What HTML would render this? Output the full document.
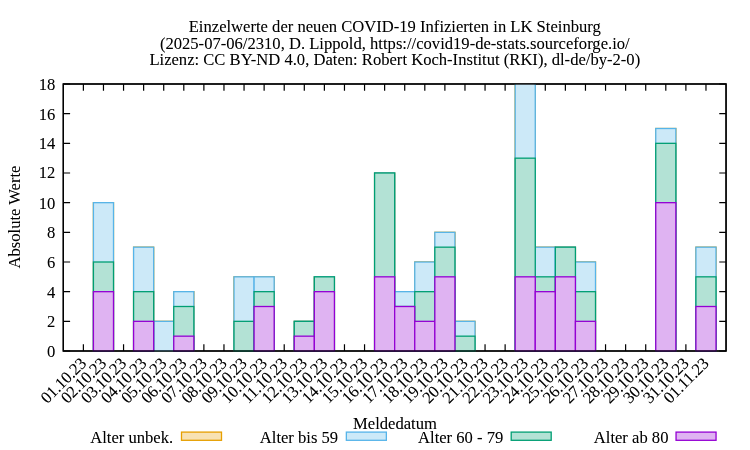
<!DOCTYPE html>
<html lang="de"><head><meta charset="utf-8"><title>Einzelwerte der neuen COVID-19 Infizierten in LK Steinburg</title>
<style>html,body{margin:0;padding:0;background:#fff;overflow:hidden}svg{display:block}text{font-family:"Liberation Serif","DejaVu Serif",serif;font-size:16.6px;fill:#000}</style></head><body>
<svg width="750" height="450" viewBox="0 0 750 450">
<rect width="750" height="450" fill="#fff"/>
<defs><filter id="dd" x="0" y="0" width="750" height="450" filterUnits="userSpaceOnUse" color-interpolation-filters="sRGB"><feComponentTransfer><feFuncA type="table" tableValues="0 0.3 0.57 0.8 1"/></feComponentTransfer></filter>
<clipPath id="c"><rect x="63.3" y="84.0" width="662.75" height="270.0"/></clipPath></defs>
<path d="M83.38 351.0v-6.8M83.38 84.0v6.8M103.47 351.0v-6.8M103.47 84.0v6.8M123.55 351.0v-6.8M123.55 84.0v6.8M143.63 351.0v-6.8M143.63 84.0v6.8M163.72 351.0v-6.8M163.72 84.0v6.8M183.8 351.0v-6.8M183.8 84.0v6.8M203.88 351.0v-6.8M203.88 84.0v6.8M223.97 351.0v-6.8M223.97 84.0v6.8M244.05 351.0v-6.8M244.05 84.0v6.8M264.13 351.0v-6.8M264.13 84.0v6.8M284.22 351.0v-6.8M284.22 84.0v6.8M304.3 351.0v-6.8M304.3 84.0v6.8M324.38 351.0v-6.8M324.38 84.0v6.8M344.47 351.0v-6.8M344.47 84.0v6.8M364.55 351.0v-6.8M364.55 84.0v6.8M384.63 351.0v-6.8M384.63 84.0v6.8M404.72 351.0v-6.8M404.72 84.0v6.8M424.8 351.0v-6.8M424.8 84.0v6.8M444.88 351.0v-6.8M444.88 84.0v6.8M464.97 351.0v-6.8M464.97 84.0v6.8M485.05 351.0v-6.8M485.05 84.0v6.8M505.13 351.0v-6.8M505.13 84.0v6.8M525.22 351.0v-6.8M525.22 84.0v6.8M545.3 351.0v-6.8M545.3 84.0v6.8M565.38 351.0v-6.8M565.38 84.0v6.8M585.47 351.0v-6.8M585.47 84.0v6.8M605.55 351.0v-6.8M605.55 84.0v6.8M625.63 351.0v-6.8M625.63 84.0v6.8M645.72 351.0v-6.8M645.72 84.0v6.8M665.8 351.0v-6.8M665.8 84.0v6.8M685.88 351.0v-6.8M685.88 84.0v6.8M705.97 351.0v-6.8M705.97 84.0v6.8M63.3 351.0h6.8M726.05 351.0h-6.8M63.3 321.33h6.8M726.05 321.33h-6.8M63.3 291.67h6.8M726.05 291.67h-6.8M63.3 262.0h6.8M726.05 262.0h-6.8M63.3 232.33h6.8M726.05 232.33h-6.8M63.3 202.67h6.8M726.05 202.67h-6.8M63.3 173.0h6.8M726.05 173.0h-6.8M63.3 143.33h6.8M726.05 143.33h-6.8M63.3 113.67h6.8M726.05 113.67h-6.8M63.3 84.0h6.8M726.05 84.0h-6.8" stroke="#000" stroke-width="1.2" fill="none"/>
<rect x="63.3" y="84.0" width="662.75" height="267.0" fill="none" stroke="#000" stroke-width="1.3"/>
<g clip-path="url(#c)">
<g stroke="#E69F00" fill="#F8E2B3" stroke-width="1.3">
<rect x="93.42" y="202.67" width="20.08" height="148.33"/>
<rect x="133.59" y="247.17" width="20.08" height="103.83"/>
<rect x="153.67" y="321.33" width="20.08" height="29.67"/>
<rect x="173.76" y="291.67" width="20.08" height="59.33"/>
<rect x="234.01" y="276.83" width="20.08" height="74.17"/>
<rect x="254.09" y="276.83" width="20.08" height="74.17"/>
<rect x="294.26" y="321.33" width="20.08" height="29.67"/>
<rect x="314.34" y="276.83" width="20.08" height="74.17"/>
<rect x="374.59" y="173.0" width="20.08" height="178.0"/>
<rect x="394.67" y="291.67" width="20.08" height="59.33"/>
<rect x="414.76" y="262.0" width="20.08" height="89.0"/>
<rect x="434.84" y="232.33" width="20.08" height="118.67"/>
<rect x="454.92" y="321.33" width="20.08" height="29.67"/>
<rect x="515.17" y="69.17" width="20.08" height="281.83"/>
<rect x="535.26" y="247.17" width="20.08" height="103.83"/>
<rect x="555.34" y="247.17" width="20.08" height="103.83"/>
<rect x="575.42" y="262.0" width="20.08" height="89.0"/>
<rect x="655.76" y="128.5" width="20.08" height="222.5"/>
<rect x="695.92" y="247.17" width="20.08" height="103.83"/>
</g>
<g stroke="#56B4E9" fill="#CCE9F8" stroke-width="1.3">
<rect x="93.42" y="202.67" width="20.08" height="148.33"/>
<rect x="133.59" y="247.17" width="20.08" height="103.83"/>
<rect x="153.67" y="321.33" width="20.08" height="29.67"/>
<rect x="173.76" y="291.67" width="20.08" height="59.33"/>
<rect x="234.01" y="276.83" width="20.08" height="74.17"/>
<rect x="254.09" y="276.83" width="20.08" height="74.17"/>
<rect x="294.26" y="321.33" width="20.08" height="29.67"/>
<rect x="314.34" y="276.83" width="20.08" height="74.17"/>
<rect x="374.59" y="173.0" width="20.08" height="178.0"/>
<rect x="394.67" y="291.67" width="20.08" height="59.33"/>
<rect x="414.76" y="262.0" width="20.08" height="89.0"/>
<rect x="434.84" y="232.33" width="20.08" height="118.67"/>
<rect x="454.92" y="321.33" width="20.08" height="29.67"/>
<rect x="515.17" y="69.17" width="20.08" height="281.83"/>
<rect x="535.26" y="247.17" width="20.08" height="103.83"/>
<rect x="555.34" y="247.17" width="20.08" height="103.83"/>
<rect x="575.42" y="262.0" width="20.08" height="89.0"/>
<rect x="655.76" y="128.5" width="20.08" height="222.5"/>
<rect x="695.92" y="247.17" width="20.08" height="103.83"/>
</g>
<g stroke="#009E73" fill="#B3E2D5" stroke-width="1.3">
<rect x="93.42" y="262.0" width="20.08" height="89.0"/>
<rect x="133.59" y="291.67" width="20.08" height="59.33"/>
<rect x="153.67" y="351.0" width="20.08" height="0.0"/>
<rect x="173.76" y="306.5" width="20.08" height="44.5"/>
<rect x="234.01" y="321.33" width="20.08" height="29.67"/>
<rect x="254.09" y="291.67" width="20.08" height="59.33"/>
<rect x="294.26" y="321.33" width="20.08" height="29.67"/>
<rect x="314.34" y="276.83" width="20.08" height="74.17"/>
<rect x="374.59" y="173.0" width="20.08" height="178.0"/>
<rect x="394.67" y="306.5" width="20.08" height="44.5"/>
<rect x="414.76" y="291.67" width="20.08" height="59.33"/>
<rect x="434.84" y="247.17" width="20.08" height="103.83"/>
<rect x="454.92" y="336.17" width="20.08" height="14.83"/>
<rect x="515.17" y="158.17" width="20.08" height="192.83"/>
<rect x="535.26" y="276.83" width="20.08" height="74.17"/>
<rect x="555.34" y="247.17" width="20.08" height="103.83"/>
<rect x="575.42" y="291.67" width="20.08" height="59.33"/>
<rect x="655.76" y="143.33" width="20.08" height="207.67"/>
<rect x="695.92" y="276.83" width="20.08" height="74.17"/>
</g>
<g stroke="#9400D3" fill="#DFB3F2" stroke-width="1.3">
<rect x="93.42" y="291.67" width="20.08" height="59.33"/>
<rect x="133.59" y="321.33" width="20.08" height="29.67"/>
<rect x="153.67" y="351.0" width="20.08" height="0.0"/>
<rect x="173.76" y="336.17" width="20.08" height="14.83"/>
<rect x="234.01" y="351.0" width="20.08" height="0.0"/>
<rect x="254.09" y="306.5" width="20.08" height="44.5"/>
<rect x="294.26" y="336.17" width="20.08" height="14.83"/>
<rect x="314.34" y="291.67" width="20.08" height="59.33"/>
<rect x="374.59" y="276.83" width="20.08" height="74.17"/>
<rect x="394.67" y="306.5" width="20.08" height="44.5"/>
<rect x="414.76" y="321.33" width="20.08" height="29.67"/>
<rect x="434.84" y="276.83" width="20.08" height="74.17"/>
<rect x="454.92" y="351.0" width="20.08" height="0.0"/>
<rect x="515.17" y="276.83" width="20.08" height="74.17"/>
<rect x="535.26" y="291.67" width="20.08" height="59.33"/>
<rect x="555.34" y="276.83" width="20.08" height="74.17"/>
<rect x="575.42" y="321.33" width="20.08" height="29.67"/>
<rect x="655.76" y="202.67" width="20.08" height="148.33"/>
<rect x="695.92" y="306.5" width="20.08" height="44.5"/>
</g>
</g>
<rect x="63.3" y="84.0" width="662.75" height="267.0" fill="none" stroke="#000" stroke-width="1.3"/>
<rect x="181.5" y="432.1" width="40" height="8.2" fill="#F8E2B3" stroke="#E69F00" stroke-width="1.3"/>
<rect x="346.35" y="432.1" width="40" height="8.2" fill="#CCE9F8" stroke="#56B4E9" stroke-width="1.3"/>
<rect x="511.2" y="432.1" width="40" height="8.2" fill="#B3E2D5" stroke="#009E73" stroke-width="1.3"/>
<rect x="676.05" y="432.1" width="40" height="8.2" fill="#DFB3F2" stroke="#9400D3" stroke-width="1.3"/>
<g class="labels" filter="url(#dd)">
<text x="394.8" y="31.6" text-anchor="middle">Einzelwerte der neuen COVID-19 Infizierten in LK Steinburg</text>
<text x="394.8" y="48.7" text-anchor="middle">(2025-07-06/2310, D. Lippold, https://covid19-de-stats.sourceforge.io/</text>
<text x="394.8" y="64.6" text-anchor="middle">Lizenz: CC BY-ND 4.0, Daten: Robert Koch-Institut (RKI), dl-de/by-2-0)</text>
<text x="55.3" y="356.5" text-anchor="end">0</text>
<text x="55.3" y="326.93" text-anchor="end">2</text>
<text x="55.3" y="297.77" text-anchor="end">4</text>
<text x="55.3" y="267.5" text-anchor="end">6</text>
<text x="55.3" y="238.43" text-anchor="end">8</text>
<text x="55.3" y="209.07" text-anchor="end">10</text>
<text x="55.3" y="178.3" text-anchor="end">12</text>
<text x="55.3" y="149.43" text-anchor="end">14</text>
<text x="55.3" y="119.87" text-anchor="end">16</text>
<text x="55.3" y="89.5" text-anchor="end">18</text>
<text transform="translate(83.38 360.4) rotate(-45)" text-anchor="end" y="5.5" textLength="56.5" lengthAdjust="spacing">01.10.23</text>
<text transform="translate(103.47 360.4) rotate(-45)" text-anchor="end" y="5.5" textLength="56.5" lengthAdjust="spacing">02.10.23</text>
<text transform="translate(123.55 360.4) rotate(-45)" text-anchor="end" y="5.5" textLength="56.5" lengthAdjust="spacing">03.10.23</text>
<text transform="translate(143.63 360.4) rotate(-45)" text-anchor="end" y="5.5" textLength="56.5" lengthAdjust="spacing">04.10.23</text>
<text transform="translate(163.72 360.4) rotate(-45)" text-anchor="end" y="5.5" textLength="56.5" lengthAdjust="spacing">05.10.23</text>
<text transform="translate(183.8 360.4) rotate(-45)" text-anchor="end" y="5.5" textLength="56.5" lengthAdjust="spacing">06.10.23</text>
<text transform="translate(203.88 360.4) rotate(-45)" text-anchor="end" y="5.5" textLength="56.5" lengthAdjust="spacing">07.10.23</text>
<text transform="translate(223.97 360.4) rotate(-45)" text-anchor="end" y="5.5" textLength="56.5" lengthAdjust="spacing">08.10.23</text>
<text transform="translate(244.05 360.4) rotate(-45)" text-anchor="end" y="5.5" textLength="56.5" lengthAdjust="spacing">09.10.23</text>
<text transform="translate(264.13 360.4) rotate(-45)" text-anchor="end" y="5.5" textLength="56.5" lengthAdjust="spacing">10.10.23</text>
<text transform="translate(284.22 360.4) rotate(-45)" text-anchor="end" y="5.5" textLength="56.5" lengthAdjust="spacing">11.10.23</text>
<text transform="translate(304.3 360.4) rotate(-45)" text-anchor="end" y="5.5" textLength="56.5" lengthAdjust="spacing">12.10.23</text>
<text transform="translate(324.38 360.4) rotate(-45)" text-anchor="end" y="5.5" textLength="56.5" lengthAdjust="spacing">13.10.23</text>
<text transform="translate(344.47 360.4) rotate(-45)" text-anchor="end" y="5.5" textLength="56.5" lengthAdjust="spacing">14.10.23</text>
<text transform="translate(364.55 360.4) rotate(-45)" text-anchor="end" y="5.5" textLength="56.5" lengthAdjust="spacing">15.10.23</text>
<text transform="translate(384.63 360.4) rotate(-45)" text-anchor="end" y="5.5" textLength="56.5" lengthAdjust="spacing">16.10.23</text>
<text transform="translate(404.72 360.4) rotate(-45)" text-anchor="end" y="5.5" textLength="56.5" lengthAdjust="spacing">17.10.23</text>
<text transform="translate(424.8 360.4) rotate(-45)" text-anchor="end" y="5.5" textLength="56.5" lengthAdjust="spacing">18.10.23</text>
<text transform="translate(444.88 360.4) rotate(-45)" text-anchor="end" y="5.5" textLength="56.5" lengthAdjust="spacing">19.10.23</text>
<text transform="translate(464.97 360.4) rotate(-45)" text-anchor="end" y="5.5" textLength="56.5" lengthAdjust="spacing">20.10.23</text>
<text transform="translate(485.05 360.4) rotate(-45)" text-anchor="end" y="5.5" textLength="56.5" lengthAdjust="spacing">21.10.23</text>
<text transform="translate(505.13 360.4) rotate(-45)" text-anchor="end" y="5.5" textLength="56.5" lengthAdjust="spacing">22.10.23</text>
<text transform="translate(525.22 360.4) rotate(-45)" text-anchor="end" y="5.5" textLength="56.5" lengthAdjust="spacing">23.10.23</text>
<text transform="translate(545.3 360.4) rotate(-45)" text-anchor="end" y="5.5" textLength="56.5" lengthAdjust="spacing">24.10.23</text>
<text transform="translate(565.38 360.4) rotate(-45)" text-anchor="end" y="5.5" textLength="56.5" lengthAdjust="spacing">25.10.23</text>
<text transform="translate(585.47 360.4) rotate(-45)" text-anchor="end" y="5.5" textLength="56.5" lengthAdjust="spacing">26.10.23</text>
<text transform="translate(605.55 360.4) rotate(-45)" text-anchor="end" y="5.5" textLength="56.5" lengthAdjust="spacing">27.10.23</text>
<text transform="translate(625.63 360.4) rotate(-45)" text-anchor="end" y="5.5" textLength="56.5" lengthAdjust="spacing">28.10.23</text>
<text transform="translate(645.72 360.4) rotate(-45)" text-anchor="end" y="5.5" textLength="56.5" lengthAdjust="spacing">29.10.23</text>
<text transform="translate(665.8 360.4) rotate(-45)" text-anchor="end" y="5.5" textLength="56.5" lengthAdjust="spacing">30.10.23</text>
<text transform="translate(685.88 360.4) rotate(-45)" text-anchor="end" y="5.5" textLength="56.5" lengthAdjust="spacing">31.10.23</text>
<text transform="translate(705.97 360.4) rotate(-45)" text-anchor="end" y="5.5" textLength="56.5" lengthAdjust="spacing">01.11.23</text>
<text transform="translate(19.7 217) rotate(-90)" text-anchor="middle">Absolute Werte</text>
<text x="395" y="428.6" text-anchor="middle">Meldedatum</text>
<text x="173.2" y="442.6" text-anchor="end">Alter unbek.</text>
<text x="338.15" y="442.6" text-anchor="end">Alter bis 59</text>
<text x="503.3" y="442.6" text-anchor="end">Alter 60 - 79</text>
<text x="668.45" y="442.6" text-anchor="end">Alter ab 80</text>
</g>
</svg></body></html>
